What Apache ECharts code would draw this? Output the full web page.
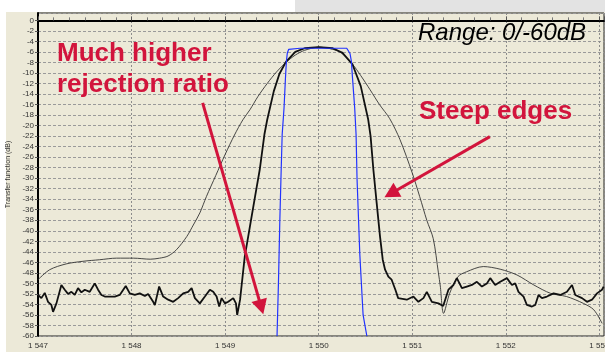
<!DOCTYPE html>
<html>
<head>
<meta charset="utf-8">
<script src="https://cdn.jsdelivr.net/npm/echarts@6/dist/echarts.min.js"></script>
<style>
  html, body { margin: 0; padding: 0; background: #fff; }
  #chart { width: 605px; height: 352px; }
</style>
</head>
<body>
<div id="chart"></div>
<script>
// flat-top filter (blue)
const flatTopNm = [1549.555, 1549.57, 1549.585, 1549.60, 1549.61, 1549.63, 1549.645, 1549.655, 1549.665, 1549.68, 1549.70, 1549.8, 1550.0, 1550.2, 1550.30, 1550.32, 1550.335, 1550.35, 1550.36, 1550.385, 1550.40, 1550.41, 1550.44, 1550.475, 1550.515]
const flatTopDb = [-60, -50, -38, -28, -21.7, -16.6, -11, -7.8, -6.2, -5.5, -5.3, -5.3, -5.3, -5.3, -5.3, -5.5, -6.3, -7.8, -10.5, -16.6, -21.7, -30, -44.5, -56, -60]

// wide filter (thin black)
const wideNm = [1547.0, 1547.125, 1547.30, 1547.48, 1547.66, 1547.84, 1548.02, 1548.2, 1548.30, 1548.39, 1548.48, 1548.59, 1548.66, 1548.73, 1548.8, 1548.9, 1549.0, 1549.1, 1549.19, 1549.265, 1549.35, 1549.45, 1549.55, 1549.65, 1549.75, 1549.85, 1550.0, 1550.15, 1550.25, 1550.36, 1550.45, 1550.55, 1550.65, 1550.76, 1550.87, 1551.0, 1551.08, 1551.156, 1551.225, 1551.28, 1551.30, 1551.335, 1551.4, 1551.49, 1551.58, 1551.76, 1551.94, 1552.12, 1552.30, 1552.48, 1552.65, 1552.83, 1552.94, 1553.03]
const wideDb = [-49.3, -47.4, -46.3, -45.8, -45.5, -45.2, -45.2, -45.4, -45.2, -44.8, -43.6, -41.1, -38.9, -36.6, -33.5, -29.5, -25.5, -21.8, -18.9, -17, -14.5, -12, -9.8, -8.0, -6.6, -5.7, -5.1, -5.5, -6.3, -8.3, -10.5, -13.2, -16, -18.7, -22.7, -29, -33.5, -38, -41.5, -48, -50.5, -55.7, -51.9, -48.7, -47.8, -46.8, -47.3, -48.4, -50.3, -51.9, -52.5, -53.8, -55, -57.6]

// measured transfer function (thick black)
const measNm = [
  1547.000, 1547.036, 1547.072, 1547.107, 1547.143, 1547.161, 1547.197, 1547.250, 1547.286, 1547.321,
  1547.357, 1547.393, 1547.428, 1547.464, 1547.500, 1547.553, 1547.607, 1547.642, 1547.678, 1547.714,
  1547.767, 1547.821, 1547.874, 1547.938, 1547.981, 1548.035, 1548.088, 1548.142, 1548.177, 1548.231,
  1548.249, 1548.295, 1548.338, 1548.391, 1548.445, 1548.498, 1548.552, 1548.605, 1548.642, 1548.677,
  1548.730, 1548.784, 1548.837, 1548.873, 1548.909, 1548.937, 1548.963, 1548.998, 1549.033, 1549.087,
  1549.116, 1549.129,
  1549.16, 1549.21, 1549.265, 1549.32, 1549.37, 1549.42, 1549.45, 1549.52, 1549.58, 1549.65,
  1549.75, 1549.85, 1550.0, 1550.15, 1550.25, 1550.36, 1550.45, 1550.53, 1550.555, 1550.585,
  1550.62, 1550.656, 1550.685, 1550.71, 1550.745, 1550.78, 1550.82, 1550.85,
  1550.871, 1550.942, 1551.013, 1551.066, 1551.120, 1551.156, 1551.210, 1551.280, 1551.331, 1551.387,
  1551.441, 1551.477, 1551.531, 1551.584, 1551.638, 1551.691, 1551.745, 1551.798, 1551.834, 1551.887,
  1551.941, 1552.012, 1552.066, 1552.101, 1552.136, 1552.190, 1552.226, 1552.280, 1552.315, 1552.350,
  1552.387, 1552.440, 1552.511, 1552.583, 1552.654, 1552.708, 1552.743, 1552.815, 1552.868, 1552.922,
  1552.975, 1553.029, 1553.046
]
const measDb = [
  -52.2, -52.8, -51.8, -53.5, -54.1, -55.4, -53.8, -50.3, -51.2, -52.0,
  -51.6, -52.2, -50.9, -51.7, -51.2, -51.6, -50.0, -51.2, -52.2, -52.5,
  -52.5, -52.5, -52.2, -50.5, -51.9, -52.2, -51.9, -52.4, -52.0, -53.5,
  -54.1, -50.6, -52.5, -53.1, -53.5, -52.8, -51.9, -51.6, -50.9, -52.8,
  -53.8, -52.5, -51.2, -51.6, -52.5, -54.4, -52.8, -53.8, -53.5, -52.8,
  -53.8, -56.0,
  -53.1, -44.9, -39.2, -33.5, -28.4, -21.7, -18.9, -13.5, -10.2, -7.9,
  -6.0, -5.3, -5.1, -5.3, -6.1, -8.3, -12.5, -18.9, -22.0, -28.4,
  -34.7, -41.1, -45.5, -47.4, -48.7, -49.3, -51.2, -52.8,
  -52.5, -53.1, -52.5, -53.5, -52.8, -51.6, -53.5, -53.8, -54.3, -51.2,
  -50.3, -49.0, -50.9, -50.6, -50.3, -49.7, -50.6, -50.0, -49.0, -50.3,
  -49.7, -49.0, -50.3, -50.0, -51.6, -52.5, -54.1, -54.4, -54.1, -52.2,
  -52.8, -52.5, -51.9, -52.2, -51.6, -50.3, -52.2, -52.8, -53.5, -53.1,
  -51.9, -51.2, -50.6
]

// annotation arrows [startNm, startDb, endNm, endDb]
const arrowRejection = [1548.76, -15.7, 1549.386, -54.5]
const arrowEdges = [1551.83, -22.1, 1550.773, -32.9]

const red = '#d2143c'
const font = '"Liberation Sans", Arial, sans-serif'

const zip = (xs, ys) => xs.map((x, i) => [x, ys[i]])

const chart = echarts.init(document.getElementById('chart'))

chart.setOption({
  animation: false,
  backgroundColor: '#ece9d8',
  grid: {
    left: 38,
    right: 1,
    top: 13,
    bottom: 16,
    outerBoundsMode: 'none',
    containLabel: false,
    show: true,
    borderColor: '#222',
    borderWidth: 1
  },
  xAxis: {
    type: 'value',
    min: 1547,
    max: 1553.05,
    interval: 1,
    name: 'Wavelength (nm)',
    nameLocation: 'middle',
    nameGap: 12,
    nameTextStyle: { fontSize: 8, color: '#333', fontFamily: font },
    axisLine: { lineStyle: { color: '#000', width: 2 } },
    axisTick: { inside: true, length: 4, lineStyle: { color: '#555' } },
    minorTick: { show: true, splitNumber: 6, length: 3, lineStyle: { color: '#777' } },
    splitLine: { show: true, lineStyle: { color: '#8c8c8c', type: [2, 2] } },
    axisLabel: {
      fontSize: 8,
      color: '#333',
      fontFamily: font,
      margin: 6,
      showMaxLabel: false,
      formatter: v => String(v).replace(/(\d)(\d{3})$/, '$1 $2')
    }
  },
  yAxis: {
    type: 'value',
    min: -60,
    max: 1.4,
    interval: 2,
    name: 'Transfer function (dB)',
    nameLocation: 'middle',
    nameGap: 18,
    nameTextStyle: { fontSize: 7, color: '#333', fontFamily: font },
    axisLine: { show: true, lineStyle: { color: '#000', width: 2 } },
    axisTick: { show: true, length: 3, lineStyle: { color: '#555' } },
    splitLine: { show: true, lineStyle: { color: '#9a9a9a', type: [3, 2] } },
    axisLabel: { fontSize: 8, color: '#333', fontFamily: font, margin: 4, showMaxLabel: false }
  },
  graphic: [
    { type: 'rect', shape: { x: 0, y: 0, width: 295, height: 12 }, style: { fill: '#fff' }, silent: true },
    { type: 'rect', shape: { x: 295, y: 0, width: 310, height: 12 }, style: { fill: '#e3e3e3' }, silent: true },
    { type: 'rect', shape: { x: 0, y: 0, width: 6, height: 352 }, style: { fill: '#fff' }, silent: true },
    { type: 'text', x: 57, y: 54, z: 10, style: { text: 'Much higher', font: 'bold 26px ' + font, fill: red, verticalAlign: 'middle' } },
    { type: 'text', x: 57, y: 85, z: 10, style: { text: 'rejection ratio', font: 'bold 26px ' + font, fill: red, verticalAlign: 'middle' } },
    { type: 'text', x: 419, y: 112, z: 10, style: { text: 'Steep edges', font: 'bold 26px ' + font, fill: red, verticalAlign: 'middle' } },
    { type: 'text', x: 418, y: 33, z: 10, style: { text: 'Range: 0/-60dB', font: 'italic 24px ' + font, fill: '#000', verticalAlign: 'middle' } }
  ],
  series: [
    {
      name: 'wide',
      type: 'line',
      showSymbol: false,
      smooth: 0.3,
      data: zip(wideNm, wideDb),
      lineStyle: { color: '#333', width: 0.9 }
    },
    {
      name: 'measured',
      type: 'line',
      showSymbol: false,
      data: zip(measNm, measDb),
      lineStyle: { color: '#111', width: 1.8 },
      markLine: {
        silent: true,
        symbol: ['none', 'triangle'],
        symbolSize: [16, 15],
        label: { show: false },
        lineStyle: { color: red, width: 3, type: 'solid' },
        data: [
          [{ coord: arrowRejection.slice(0, 2) }, { coord: arrowRejection.slice(2) }],
          [{ coord: arrowEdges.slice(0, 2) }, { coord: arrowEdges.slice(2) }]
        ]
      }
    },
    {
      name: 'flat top',
      type: 'line',
      showSymbol: false,
      data: zip(flatTopNm, flatTopDb),
      lineStyle: { color: '#2233ff', width: 1.2 }
    }
  ]
})
</script>
</body>
</html>
